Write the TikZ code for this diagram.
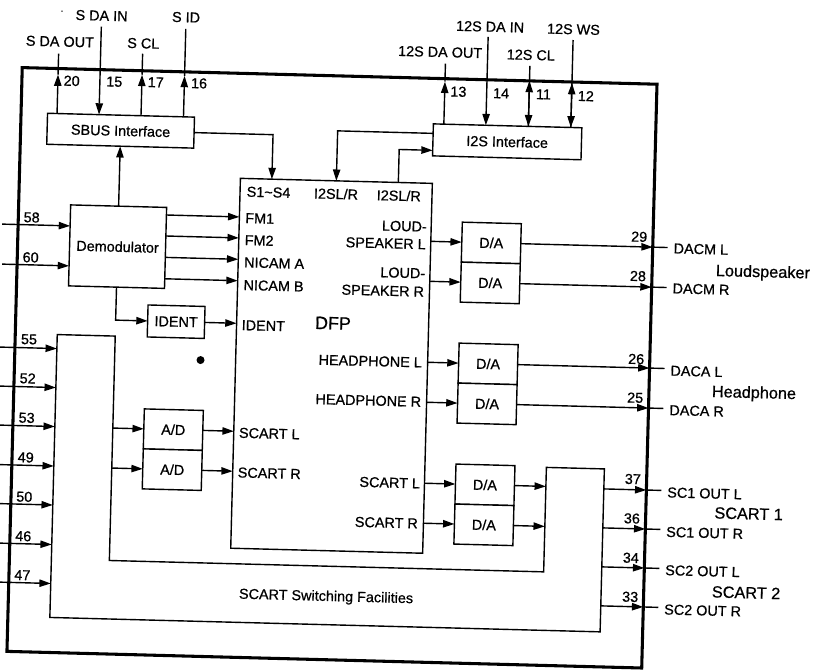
\documentclass[tikz,border=0pt]{standalone}
\usepackage{fontspec}
\setmainfont[FakeBold=0.7]{Liberation Sans}
\usetikzlibrary{arrows.meta,calc}
\tikzset{
  pxsize/.style 2 args={minimum width=#1*0.75pt,minimum height=#2*0.75pt},
  blockbox/.style={draw=black,line width=1.05pt,fill=white,inner sep=0pt,outer sep=0pt,align=center,font=\fontsize{10.8}{12}\selectfont},
  chipbox/.style={draw=black,line width=2.3pt,inner sep=0pt,outer sep=0pt},
  wire/.style={draw=black,line width=1.05pt},
  arr/.style={wire,-{Stealth[inset=0pt,length=8.5pt,width=5.5pt]}},
  lab/.style={inner sep=0pt,outer sep=0pt,font=\fontsize{10.8}{12}\selectfont},
  biglab/.style={inner sep=0pt,outer sep=0pt,font=\fontsize{12.2}{14}\selectfont},
  dfplab/.style={inner sep=0pt,outer sep=0pt,font=\fontsize{13.4}{15}\selectfont},
}
\begin{document}
\begin{tikzpicture}[x=0.75pt,y=-0.75pt]
\useasboundingbox (0,0) rectangle (815,671);
\begin{scope}[rotate=-1.5,transform shape]
% outer package
\node[chipbox,pxsize={635}{584}] (chip) at (341.5,359) {};
% switching block
\coordinate (sw) at (66,333);
\coordinate (swi) at (124,333);
\coordinate (swb) at (124,557.5);
\coordinate (swd) at (558.5,557.5);
\coordinate (swt) at (558.5,453);
\coordinate (swr) at (616.5,453);
\coordinate (swe) at (616.5,616);
\coordinate (swf) at (66,616);
\draw[wire] (sw) -- (swi) -- (swb) -- (swd) -- (swt) -- (swr) -- (swe) -- (swf) -- cycle;
\node[lab] (swlab) at (341.6,588.5) {SCART Switching Facilities};
% blocks
\node[blockbox,pxsize={147}{31}] (sbus) at (124,127.5) {SBUS Interface};
\node[blockbox,pxsize={148.5}{32}] (i2s) at (510.75,128.5) {I2S Interface};
\node[blockbox,pxsize={192}{370}] (dfp) at (341,357) {};
\node[blockbox,pxsize={96}{81}] (demod) at (124,243.5) {Demodulator};
\node[blockbox,pxsize={57}{32}] (ident) at (184.5,317) {IDENT};
\node[blockbox,pxsize={59}{40}] (ad1) at (184.5,425) {A/D};
\node[blockbox,pxsize={59}{40}] (ad2) at (184.5,465) {A/D};
\node[blockbox,pxsize={59}{40}] (da1) at (497.5,230) {D/A};
\node[blockbox,pxsize={59}{40}] (da2) at (497.5,270) {D/A};
\node[blockbox,pxsize={59}{40}] (da3) at (497.5,351) {D/A};
\node[blockbox,pxsize={59}{40}] (da4) at (497.5,391) {D/A};
\node[blockbox,pxsize={59}{40}] (da5) at (497.5,472) {D/A};
\node[blockbox,pxsize={59}{40}] (da6) at (497.5,512) {D/A};
% DFP inner labels
\node[lab,anchor=west] (ls1) at (251.7,185.2) {S1\textasciitilde S4};
\node[lab,anchor=west] (li1) at (319,185) {I2SL/R};
\node[lab,anchor=west] (li2) at (381.8,185.1) {I2SL/R};
\node[lab,anchor=west] (lfm1) at (251,211.6) {FM1};
\node[lab,anchor=west] (lfm2) at (251,233.6) {FM2};
\node[lab,anchor=west] (lna) at (251,255.9) {NICAM A};
\node[lab,anchor=west] (lnb) at (251,278.6) {NICAM B};
\node[lab,anchor=west] (lid) at (250.2,318.7) {IDENT};
\node[dfplab,anchor=west] (ldfp) at (323.5,314.4) {DFP};
\node[lab,anchor=west] (lsl) at (250.3,426.4) {SCART L};
\node[lab,anchor=west] (lsr) at (250.1,466.1) {SCART R};
\node[lab,anchor=east] (lo1) at (432.6,215.5) {LOUD-};
\node[lab,anchor=east] (lo2) at (432,233.1) {SPEAKER L};
\node[lab,anchor=east] (lo3) at (432.2,262.2) {LOUD-};
\node[lab,anchor=east] (lo4) at (431.5,280.6) {SPEAKER R};
\node[lab,anchor=east] (lh1) at (431.2,351.3) {HEADPHONE L};
\node[lab,anchor=east] (lh2) at (431.5,390.7) {HEADPHONE R};
\node[lab,anchor=east] (lso1) at (432.5,472.3) {SCART L};
\node[lab,anchor=east] (lso2) at (431.4,512.4) {SCART R};
% top signal names
\node[lab] (tsdo) at (61,40) {S DA OUT};
\node[lab] (tsdi) at (102,13) {S DA IN};
\node[lab] (tscl) at (144.4,39.6) {S CL};
\node[lab] (tsid) at (186.5,12.4) {S ID};
\node[lab] (tido) at (441.4,40.5) {12S DA OUT};
\node[lab] (tidi) at (490.7,13.9) {12S DA IN};
\node[lab] (ticl) at (532.1,41.1) {12S CL};
\node[lab] (tiws) at (574.1,14.3) {12S WS};
% pin numbers
\foreach \nm/\px/\py/\t in {n20/73.8/79/20,n15/116.4/78.7/15,n17/157.9/78.2/17,n16/201.2/78.1/16,
  n13/460.7/79.7/13,n14/503.4/80.2/14,n11/545.8/80.1/11,n12/588.2/80.7/12,
  n58/37.4/216.5/58,n60/37.4/256.5/60,n55/37.9/338.5/55,n52/37.6/377.6/52,n53/37.6/417/53,
  n49/37.7/456.6/49,n50/37.3/496/50,n46/37.3/535.4/46,n47/37.4/574.4/47,
  n29/645.2/220/29,n28/645/259.3/28,n26/645.4/342.3/26,n25/645.4/381/25,
  n37/645.2/462.4/37,n36/645.3/501.8/36,n34/645.3/541.2/34,n33/645.6/580.2/33}
  {\node[lab] (\nm) at (\px,\py) {\t};}
% right labels
\node[lab,anchor=west] (odml) at (680,230.7) {DACM L};
\node[lab,anchor=west] (odmr) at (680,270.7) {DACM R};
\node[lab,anchor=west] (odal) at (680,353) {DACA L};
\node[lab,anchor=west] (odar) at (680,392.5) {DACA R};
\node[lab,anchor=west] (os1l) at (680,474.8) {SC1 OUT L};
\node[lab,anchor=west] (os1r) at (680,514.3) {SC1 OUT R};
\node[lab,anchor=west] (os2l) at (680,552.6) {SC2 OUT L};
\node[lab,anchor=west] (os2r) at (680,591.9) {SC2 OUT R};
\node[biglab,anchor=west] (gls) at (722.8,253) {Loudspeaker};
\node[biglab,anchor=west] (ghp) at (722,374) {Headphone};
\node[biglab,anchor=west] (gs1) at (727.7,494) {SCART 1};
\node[biglab,anchor=west] (gs2) at (727.2,573) {SCART 2};
% free pin ends, top
\coordinate (t20) at (60,52);    \coordinate (m20) at (60,73);
\coordinate (t15) at (102,24);
\coordinate (t17) at (144,50);   \coordinate (m17) at (144,71);
\coordinate (t16) at (186.5,24); \coordinate (m16) at (186.5,71);
\coordinate (t13) at (447,52);   \coordinate (m13) at (447,70);
\coordinate (t14) at (489,24);
\coordinate (t11) at (531.5,52); \coordinate (m11) at (531.5,67);
\coordinate (t12) at (574,25);   \coordinate (m12) at (574,68);
% top connectors
\draw[arr] ($(sbus.north west)+(9.5,0)$) -- (m20); \draw[wire] (m20) -- (t20);
\draw[arr] (t15) -- ($(sbus.north west)+(51.5,0)$);
\draw[arr] ($(sbus.north west)+(93.5,0)$) -- (m17); \draw[wire] (m17) -- (t17);
\draw[arr] ($(sbus.north west)+(136,0)$) -- (m16); \draw[wire] (m16) -- (t16);
\draw[arr] ($(i2s.north west)+(10.5,0)$) -- (m13); \draw[wire] (m13) -- (t13);
\draw[arr] (t14) -- ($(i2s.north west)+(52.5,0)$);
\draw[arr] (t11) -- ($(i2s.north west)+(95,0)$);
\draw[arr] ($(i2s.north west)+(95,0)$) -- (m11);
\draw[arr] (t12) -- ($(i2s.north west)+(137.5,0)$);
\draw[arr] ($(i2s.north west)+(137.5,0)$) -- (m12);
% internal buses
\draw[arr] (demod.north) -- (sbus.south);
\draw[arr] (sbus.east) -- ($(dfp.north west)+(31.5,-44.5)$) -- ($(dfp.north west)+(31.5,0)$);
\draw[arr] ($(i2s.north west)+(0,9.5)$) -- ($(dfp.north west)+(96,-50)$) -- ($(dfp.north west)+(96,0)$);
\draw[arr] ($(dfp.north west)+(158,0)$) -- ($(dfp.north west)+(158,-33)$) -- ($(i2s.north west)+(0,26.5)$);
% demodulator
\coordinate (p58) at (8,224);
\coordinate (p60) at (9,264);
\draw[arr] (p58) -- ($(demod.north west)+(0,21)$);
\draw[arr] (p60) -- ($(demod.north west)+(0,61)$);
\draw[arr] ($(demod.north east)+(0,7.6)$) -- ($(dfp.north west)+(0,38.6)$);
\draw[arr] ($(demod.north east)+(0,28.6)$) -- ($(dfp.north west)+(0,59.6)$);
\draw[arr] ($(demod.north east)+(0,50)$) -- ($(dfp.north west)+(0,81)$);
\draw[arr] ($(demod.north east)+(0,71.4)$) -- ($(dfp.north west)+(0,102.4)$);
\draw[arr] (demod.south) -- ($(demod.south)+(0,33)$) -- (ident.west);
\draw[arr] (ident.east) -- ($(dfp.north west)+(0,145)$);
% SCART inputs
\coordinate (p55) at (9.1,347);
\coordinate (p52) at (10.1,386);
\coordinate (p53) at (11.1,425);
\coordinate (p49) at (12.2,464.5);
\coordinate (p50) at (13.2,503.5);
\coordinate (p46) at (14.2,543);
\coordinate (p47) at (15.2,582);
\draw[arr] (p55) -- ($(sw)+(0,14)$);
\draw[arr] (p52) -- ($(sw)+(0,53)$);
\draw[arr] (p53) -- ($(sw)+(0,92)$);
\draw[arr] (p49) -- ($(sw)+(0,131.5)$);
\draw[arr] (p50) -- ($(sw)+(0,170.5)$);
\draw[arr] (p46) -- ($(sw)+(0,210)$);
\draw[arr] (p47) -- ($(sw)+(0,249)$);
% A/D
\draw[arr] ($(swi)+(0,92)$) -- (ad1.west);
\draw[arr] ($(swi)+(0,132)$) -- (ad2.west);
\draw[arr] (ad1.east) -- ($(dfp.north west)+(0,253)$);
\draw[arr] (ad2.east) -- ($(dfp.north west)+(0,293)$);
% D/A inputs
\draw[arr] ($(dfp.north east)+(0,58)$) -- (da1.west);
\draw[arr] ($(dfp.north east)+(0,98)$) -- (da2.west);
\draw[arr] ($(dfp.north east)+(0,179)$) -- (da3.west);
\draw[arr] ($(dfp.north east)+(0,219)$) -- (da4.west);
\draw[arr] ($(dfp.north east)+(0,300)$) -- (da5.west);
\draw[arr] ($(dfp.north east)+(0,340)$) -- (da6.west);
\draw[arr] (da5.east) -- ($(swt)+(0,19)$);
\draw[arr] (da6.east) -- ($(swt)+(0,59)$);
% outputs
\coordinate (p29) at (659,230);
\coordinate (p28) at (659,270);
\coordinate (p26) at (659,351);
\coordinate (p25) at (659,391);
\coordinate (p37) at (659,473);
\coordinate (p36) at (659,512);
\coordinate (p34) at (659,551);
\coordinate (p33) at (659,590);
\draw[arr] (da1.east) -- (p29); \draw[wire] (p29) -- ++(15,0);
\draw[arr] (da2.east) -- (p28); \draw[wire] (p28) -- ++(15,0);
\draw[arr] (da3.east) -- (p26); \draw[wire] (p26) -- ++(15,0);
\draw[arr] (da4.east) -- (p25); \draw[wire] (p25) -- ++(15,0);
\draw[arr] ($(swr)+(0,20)$) -- (p37); \draw[wire] (p37) -- ++(15,0);
\draw[arr] ($(swr)+(0,59)$) -- (p36); \draw[wire] (p36) -- ++(15,0);
\draw[arr] ($(swr)+(0,98)$) -- (p34); \draw[wire] (p34) -- ++(15,0);
\draw[arr] ($(swr)+(0,137)$) -- (p33); \draw[wire] (p33) -- ++(15,0);
% scan specks
\fill[black] (209.9,354.7) circle[radius=4];
\fill[black] (62.3,9.5) circle[radius=0.8];
\end{scope}
\end{tikzpicture}
\end{document}
